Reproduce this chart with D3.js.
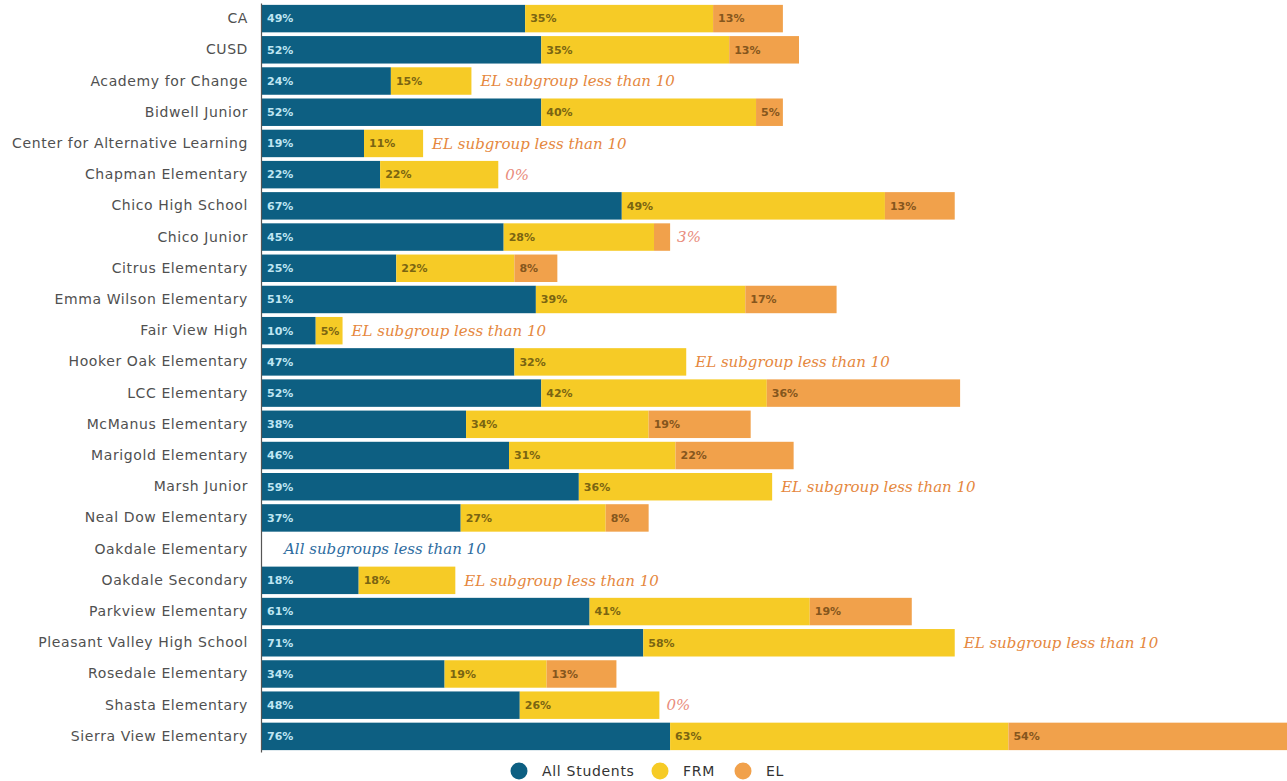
<!DOCTYPE html>
<html>
<head>
<meta charset="utf-8">
<script src="https://cdn.jsdelivr.net/npm/d3@7"></script>
<style>
  body { margin: 0; background: #fff; }
  svg { display: block; }
</style>
</head>
<body>
<svg id="chart" width="1287" height="781"></svg>
<script>
var schools = ["CA", "CUSD", "Academy for Change", "Bidwell Junior", "Center for Alternative Learning",
  "Chapman Elementary", "Chico High School", "Chico Junior", "Citrus Elementary", "Emma Wilson Elementary",
  "Fair View High", "Hooker Oak Elementary", "LCC Elementary", "McManus Elementary", "Marigold Elementary",
  "Marsh Junior", "Neal Dow Elementary", "Oakdale Elementary", "Oakdale Secondary", "Parkview Elementary",
  "Pleasant Valley High School", "Rosedale Elementary", "Shasta Elementary", "Sierra View Elementary"];

var allStudents = [49, 52, 24, 52, 19, 22, 67, 45, 25, 51, 10, 47, 52, 38, 46, 59, 37, null, 18, 61, 71, 34, 48, 76];
var frm         = [35, 35, 15, 40, 11, 22, 49, 28, 22, 39,  5, 32, 42, 34, 31, 36, 27, null, 18, 41, 58, 19, 26, 63];
var el          = [13, 13, null, 5, null, 0, 13, 3,  8, 17, null, null, 36, 19, 22, null, 8, null, null, 19, null, 13, 0, 54];

// text written after the bar when a value can't be shown inside it
var notes = ["", "", "EL subgroup less than 10", "", "EL subgroup less than 10",
  "0%", "", "3%", "", "", "EL subgroup less than 10", "EL subgroup less than 10", "", "", "",
  "EL subgroup less than 10", "", "All subgroups less than 10", "EL subgroup less than 10", "",
  "EL subgroup less than 10", "", "0%", ""];

var keys = ["All Students", "FRM", "EL"];
var colors = ["#0d5f82", "#f6cb26", "#f1a14b"];
var labelColors = ["#bfe6f2", "#7a6512", "#85561d"];

var svg = d3.select("#chart"),
    left = 262;

var rows = schools.map(function(s, i) {
  return {school: s, "All Students": allStudents[i] || 0, "FRM": frm[i] || 0, "EL": el[i] || 0, note: notes[i]};
});

var x = d3.scaleLinear().domain([0, 100]).range([left, left + 537]);

var y = d3.scaleBand()
    .domain(schools)
    .range([3, 752])
    .paddingInner(0.12)
    .paddingOuter(0.06);

var z = d3.scaleOrdinal().domain(keys).range(colors);
var zText = d3.scaleOrdinal().domain(keys).range(labelColors);

var stacked = d3.stack().keys(keys)(rows);

var layer = svg.append("g")
  .selectAll("g")
  .data(stacked)
  .enter().append("g")
    .attr("fill", function(d) { return z(d.key); });

layer.selectAll("rect")
  .data(function(d) { return d; })
  .enter().append("rect")
    .attr("x", function(d) { return x(d[0]); })
    .attr("y", function(d) { return y(d.data.school); })
    .attr("width", function(d) { return x(d[1]) - x(d[0]); })
    .attr("height", y.bandwidth());

layer.each(function(series) {
  d3.select(this).selectAll("text")
    .data(series.filter(function(d) { return d[1] - d[0] >= 5; }))
    .enter().append("text")
      .attr("x", function(d) { return x(d[0]) + 5; })
      .attr("y", function(d) { return y(d.data.school) + y.bandwidth() / 2; })
      .attr("dy", "0.35em")
      .attr("fill", zText(series.key))
      .attr("font-family", "'DejaVu Sans', sans-serif")
      .attr("font-weight", "bold")
      .attr("font-size", 11)
      .text(function(d) { return (d[1] - d[0]) + "%"; });
});

// notes after the bars
svg.append("g")
  .selectAll("text")
  .data(rows.filter(function(d) { return d.note; }))
  .enter().append("text")
    .attr("x", function(d) {
      var total = d["All Students"] + d.FRM + d.EL;
      return total === 0 ? x(0) + 22 : x(total) + (d.note.length < 4 ? 7 : 9);
    })
    .attr("y", function(d) { return y(d.school) + y.bandwidth() / 2; })
    .attr("dy", "0.35em")
    .attr("font-family", "'DejaVu Serif', serif")
    .attr("font-style", "italic")
    .attr("font-size", 15)
    .attr("fill", function(d) {
      if (d.note.indexOf("All") === 0) return "#2d6c9f";
      return d.note.length < 4 ? "#e98c7c" : "#e5873d";
    })
    .text(function(d) { return d.note; });

// category axis
var axis = svg.append("g")
  .attr("transform", "translate(" + (left - 1) + ",0)")
  .call(d3.axisLeft(y).tickSize(0).tickPadding(13));

axis.select(".domain").attr("stroke", "#555").attr("stroke-width", 1.2);
axis.selectAll("text")
  .attr("font-family", "'DejaVu Sans', sans-serif")
  .attr("font-size", 14)
  .attr("letter-spacing", "0.6px")
  .attr("fill", "#505050");

// legend
var legendX = [519, 660, 743];
var legend = svg.append("g")
  .selectAll("g")
  .data(keys)
  .enter().append("g")
    .attr("transform", function(d, i) { return "translate(" + legendX[i] + ",771)"; });

legend.append("circle")
  .attr("r", 8.5)
  .attr("fill", z);

legend.append("text")
  .attr("x", 23)
  .attr("dy", "0.35em")
  .attr("font-family", "'DejaVu Sans', sans-serif")
  .attr("font-size", 14)
  .attr("letter-spacing", "0.7px")
  .attr("fill", "#333")
  .text(function(d) { return d; });
</script>
</body>
</html>
